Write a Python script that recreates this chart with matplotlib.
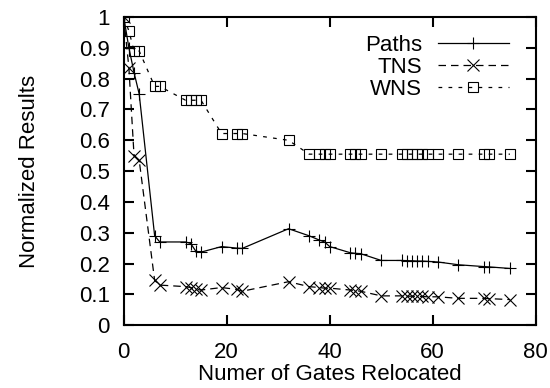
import matplotlib
matplotlib.use("Agg")
import matplotlib.pyplot as plt

plt.rcParams["font.family"] = ["Liberation Sans", "DejaVu Sans"]

# --- data ---
gates = [0, 1, 2, 3, 6, 7, 12, 13, 14, 15, 19, 22, 23, 32, 36, 38, 39, 40,
         44, 45, 46, 50, 54, 55, 56, 57, 58, 59, 61, 65, 70, 71, 75]
paths = [1.0, 0.90, 0.82, 0.75, 0.29, 0.27, 0.27, 0.265, 0.24, 0.237, 0.255,
         0.25, 0.249, 0.313, 0.29, 0.276, 0.27, 0.255, 0.235, 0.233, 0.232,
         0.21, 0.21, 0.209, 0.209, 0.208, 0.208, 0.207, 0.205, 0.196, 0.19,
         0.189, 0.184]
tns = [1.0, 0.835, 0.55, 0.535, 0.145, 0.13, 0.125, 0.122, 0.116, 0.114,
       0.122, 0.116, 0.11, 0.141, 0.125, 0.122, 0.12, 0.12, 0.114, 0.112,
       0.11, 0.095, 0.095, 0.094, 0.094, 0.093, 0.093, 0.092, 0.092, 0.087,
       0.087, 0.086, 0.083]
wns = [1.0, 0.955, 0.89, 0.89, 0.775, 0.775, 0.73, 0.73, 0.73, 0.73, 0.622,
       0.622, 0.622, 0.6, 0.555, 0.555, 0.555, 0.555, 0.555, 0.555, 0.555,
       0.555, 0.555, 0.555, 0.555, 0.555, 0.555, 0.555, 0.555, 0.555, 0.555,
       0.555, 0.555]

xticks = [0, 20, 40, 60, 80]
yticks = [0, 0.1, 0.2, 0.3, 0.4, 0.5, 0.6, 0.7, 0.8, 0.9, 1]
yticklabels = ["0", "0.1", "0.2", "0.3", "0.4", "0.5", "0.6", "0.7", "0.8", "0.9", "1"]

FS = 16

fig = plt.figure(figsize=(5.5, 3.88), dpi=100)
ax = fig.add_axes([0.225, 0.162, 0.749, 0.794])

ax.plot(gates, paths, color="black", lw=0.9, marker="+", ms=9, mew=0.8,
        label="Paths")
ax.plot(gates, tns, color="black", lw=0.9, ls=(0, (6, 4)), marker="x", ms=8,
        mew=0.8, label="TNS")
ax.plot(gates, wns, color="black", lw=0.9, ls=(0, (3, 5)), marker="s", ms=7,
        mew=0.8, mfc="none", label="WNS")

ax.set_xlim(0, 80)
ax.set_ylim(0, 1)
ax.set_xticks(xticks)
ax.set_yticks(yticks)
ax.set_yticklabels(yticklabels)
ax.tick_params(direction="in", length=7, width=1.5, labelsize=FS,
               top=True, right=True)
ax.tick_params(axis="x", pad=12)
ax.tick_params(axis="y", pad=10)
for s in ax.spines.values():
    s.set_linewidth(1.5)

ax.set_xlabel("Numer of Gates Relocated", fontsize=FS, labelpad=1)
ax.set_ylabel("Normalized Results", fontsize=FS, labelpad=28)

leg = ax.legend(loc="upper right", bbox_to_anchor=(0.983, 1.008),
                frameon=False, fontsize=FS,
                markerfirst=False, handlelength=3.2, handletextpad=0.7,
                labelspacing=0.05, borderaxespad=0.6, borderpad=0.3)
for t in leg.get_texts():
    t.set_ha("right")
leg._legend_box.align = "right"

fig.savefig("out.png", dpi=100)
